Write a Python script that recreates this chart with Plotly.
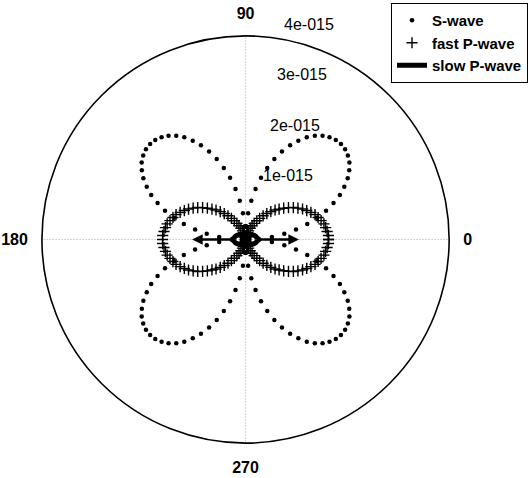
import math
import plotly.graph_objects as go

# Amplitudes are given in units of 1e-15 and scaled when plotted.
SCALE = 1e-15

# Propagation angle in degrees.
THETA_DEG = [
    0, 2.81, 5.63, 8.44, 11.25, 14.06, 16.88, 19.69, 22.5, 25.31, 28.13, 30.94, 33.75, 36.56, 39.38, 42.19,
    45, 47.81, 50.63, 53.44, 56.25, 59.06, 61.88, 64.69, 67.5, 70.31, 73.13, 75.94, 78.75, 81.56, 84.38, 87.19,
    90, 92.81, 95.63, 98.44, 101.25, 104.06, 106.88, 109.69, 112.5, 115.31, 118.13, 120.94, 123.75, 126.56, 129.38, 132.19,
    135, 137.81, 140.63, 143.44, 146.25, 149.06, 151.88, 154.69, 157.5, 160.31, 163.13, 165.94, 168.75, 171.56, 174.38, 177.19,
    180, 182.81, 185.63, 188.44, 191.25, 194.06, 196.88, 199.69, 202.5, 205.31, 208.13, 210.94, 213.75, 216.56, 219.38, 222.19,
    225, 227.81, 230.63, 233.44, 236.25, 239.06, 241.88, 244.69, 247.5, 250.31, 253.13, 255.94, 258.75, 261.56, 264.38, 267.19,
    270, 272.81, 275.63, 278.44, 281.25, 284.06, 286.88, 289.69, 292.5, 295.31, 298.13, 300.94, 303.75, 306.56, 309.38, 312.19,
    315, 317.81, 320.63, 323.44, 326.25, 329.06, 331.88, 334.69, 337.5, 340.31, 343.13, 345.94, 348.75, 351.56, 354.38, 357.19,
    360,
]

S_WAVE = [
    0.00, 0.26, 0.52, 0.77, 1.01, 1.25, 1.47, 1.68, 1.87, 2.05, 2.20, 2.34, 2.45, 2.54, 2.60, 2.64,
    2.65, 2.64, 2.60, 2.54, 2.45, 2.34, 2.20, 2.05, 1.87, 1.68, 1.47, 1.25, 1.01, 0.77, 0.52, 0.26,
    0.00, 0.26, 0.52, 0.77, 1.01, 1.25, 1.47, 1.68, 1.87, 2.05, 2.20, 2.34, 2.45, 2.54, 2.60, 2.64,
    2.65, 2.64, 2.60, 2.54, 2.45, 2.34, 2.20, 2.05, 1.87, 1.68, 1.47, 1.25, 1.01, 0.77, 0.52, 0.26,
    0.00, 0.26, 0.52, 0.77, 1.01, 1.25, 1.47, 1.68, 1.87, 2.05, 2.20, 2.34, 2.45, 2.54, 2.60, 2.64,
    2.65, 2.64, 2.60, 2.54, 2.45, 2.34, 2.20, 2.05, 1.87, 1.68, 1.47, 1.25, 1.01, 0.77, 0.52, 0.26,
    0.00, 0.26, 0.52, 0.77, 1.01, 1.25, 1.47, 1.68, 1.87, 2.05, 2.20, 2.34, 2.45, 2.54, 2.60, 2.64,
    2.65, 2.64, 2.60, 2.54, 2.45, 2.34, 2.20, 2.05, 1.87, 1.68, 1.47, 1.25, 1.01, 0.77, 0.52, 0.26,
    0.00,
]

FAST_P = [
    1.63, 1.63, 1.61, 1.59, 1.57, 1.53, 1.49, 1.45, 1.39, 1.33, 1.27, 1.20, 1.13, 1.05, 0.97, 0.89,
    0.82, 0.74, 0.66, 0.58, 0.50, 0.43, 0.36, 0.30, 0.24, 0.18, 0.14, 0.10, 0.06, 0.04, 0.02, 0.00,
    0.00, 0.00, 0.02, 0.04, 0.06, 0.10, 0.14, 0.18, 0.24, 0.30, 0.36, 0.43, 0.50, 0.58, 0.66, 0.74,
    0.82, 0.89, 0.97, 1.05, 1.13, 1.20, 1.27, 1.33, 1.39, 1.45, 1.49, 1.53, 1.57, 1.59, 1.61, 1.63,
    1.63, 1.63, 1.61, 1.59, 1.57, 1.53, 1.49, 1.45, 1.39, 1.33, 1.27, 1.20, 1.13, 1.05, 0.97, 0.89,
    0.82, 0.74, 0.66, 0.58, 0.50, 0.43, 0.36, 0.30, 0.24, 0.18, 0.14, 0.10, 0.06, 0.04, 0.02, 0.00,
    0.00, 0.00, 0.02, 0.04, 0.06, 0.10, 0.14, 0.18, 0.24, 0.30, 0.36, 0.43, 0.50, 0.58, 0.66, 0.74,
    0.82, 0.89, 0.97, 1.05, 1.13, 1.20, 1.27, 1.33, 1.39, 1.45, 1.49, 1.53, 1.57, 1.59, 1.61, 1.63,
    1.63,
]

SLOW_P = [
    0.230, 0.229, 0.228, 0.225, 0.221, 0.216, 0.211, 0.204, 0.196, 0.188, 0.179, 0.169, 0.159, 0.148, 0.137, 0.126,
    0.115, 0.104, 0.093, 0.082, 0.071, 0.061, 0.051, 0.042, 0.034, 0.026, 0.019, 0.014, 0.009, 0.005, 0.002, 0.001,
    0.000, 0.001, 0.002, 0.005, 0.009, 0.014, 0.019, 0.026, 0.034, 0.042, 0.051, 0.061, 0.071, 0.082, 0.093, 0.104,
    0.115, 0.126, 0.137, 0.148, 0.159, 0.169, 0.179, 0.188, 0.196, 0.204, 0.211, 0.216, 0.221, 0.225, 0.228, 0.229,
    0.230, 0.229, 0.228, 0.225, 0.221, 0.216, 0.211, 0.204, 0.196, 0.188, 0.179, 0.169, 0.159, 0.148, 0.137, 0.126,
    0.115, 0.104, 0.093, 0.082, 0.071, 0.061, 0.051, 0.042, 0.034, 0.026, 0.019, 0.014, 0.009, 0.005, 0.002, 0.001,
    0.000, 0.001, 0.002, 0.005, 0.009, 0.014, 0.019, 0.026, 0.034, 0.042, 0.051, 0.061, 0.071, 0.082, 0.093, 0.104,
    0.115, 0.126, 0.137, 0.148, 0.159, 0.169, 0.179, 0.188, 0.196, 0.204, 0.211, 0.216, 0.221, 0.225, 0.228, 0.229,
    0.230,
]

# Radial ticks (1e-15 units) and their printed labels.
R_TICKS = [1, 2, 3, 4]
R_TICK_TEXT = ["1e-015", "2e-015", "3e-015", "4e-015"]
R_MAX = 4

ANGLE_TICKS = [0, 90, 180, 270]
ANGLE_TEXT = ["0", "90", "180", "270"]

# Polarization arrows: direction (deg), start radius, end radius (1e-15 units).
POLARIZATION = [(0, 0.25, 1.05), (180, 0.25, 1.05)]

# Page and plot geometry in pixels.
W, H = 528, 478
CX, CY, RPX = 246, 239.5, 204
FONT = "Liberation Sans, Arial, Helvetica, sans-serif"


def to_paper(r, ang_deg):
    a = math.radians(ang_deg)
    px = CX + r / R_MAX * RPX * math.cos(a)
    py = CY - r / R_MAX * RPX * math.sin(a)
    return px / W, 1 - py / H


def scaled(vals):
    return [v * SCALE for v in vals]


fig = go.Figure()

fig.add_trace(go.Scatterpolar(
    r=scaled(S_WAVE), theta=THETA_DEG, mode="markers", name="S-wave",
    marker=dict(symbol="circle", size=4.5, color="black"),
))
fig.add_trace(go.Scatterpolar(
    r=scaled(FAST_P), theta=THETA_DEG, mode="markers", name="fast P-wave",
    marker=dict(symbol="cross-thin", size=8, color="black",
                line=dict(color="black", width=1.4)),
))
fig.add_trace(go.Scatterpolar(
    r=scaled(SLOW_P), theta=THETA_DEG, mode="lines", name="slow P-wave",
    line=dict(color="black", width=5),
))

annotations = []

# Radial tick labels along the 82 degree direction.
for t, txt in zip(R_TICKS, R_TICK_TEXT):
    x, y = to_paper(t + R_MAX / 80, 82)
    annotations.append(dict(
        x=x, y=y, xref="paper", yref="paper", text=txt, showarrow=False,
        xanchor="left", yanchor="bottom", xshift=8,
        font=dict(family=FONT, size=16, color="black"),
    ))

# Polarization arrows.
px_per_unit = RPX / R_MAX
for ang, r0, r1 in POLARIZATION:
    x, y = to_paper(r1, ang)
    a = math.radians(ang)
    annotations.append(dict(
        x=x, y=y, xref="paper", yref="paper", text="", showarrow=True,
        ax=(r0 - r1) * px_per_unit * math.cos(a),
        ay=-(r0 - r1) * px_per_unit * math.sin(a),
        arrowhead=2, arrowsize=0.85, arrowwidth=2.5, arrowcolor="black",
        standoff=0, startstandoff=0,
    ))

fig.update_layout(
    width=W, height=H,
    margin=dict(l=0, r=0, t=0, b=0),
    paper_bgcolor="white",
    showlegend=True,
    legend=dict(
        x=392 / W, y=1 - 3 / H, xanchor="left", yanchor="top",
        bgcolor="white", bordercolor="black", borderwidth=1,
        font=dict(family=FONT, size=15, color="black", weight="bold"),
        tracegroupgap=0, itemwidth=30,
    ),
    polar=dict(
        domain=dict(x=[(CX - RPX) / W, (CX + RPX) / W],
                    y=[1 - (CY + RPX) / H, 1 - (CY - RPX) / H]),
        bgcolor="white",
        radialaxis=dict(range=[0, R_MAX * SCALE], visible=False, showgrid=False),
        angularaxis=dict(
            rotation=0, direction="counterclockwise",
            tickmode="array", tickvals=ANGLE_TICKS, ticktext=ANGLE_TEXT,
            ticks="outside", ticklen=10, tickcolor="rgba(0,0,0,0)",
            tickfont=dict(family=FONT, size=16, color="black", weight="bold"),
            showgrid=True, gridcolor="#a8a8a8", griddash="1px,2px", gridwidth=1,
            showline=True, linecolor="black", linewidth=1.6,
        ),
    ),
    annotations=annotations,
)

fig.write_html("out.html")
